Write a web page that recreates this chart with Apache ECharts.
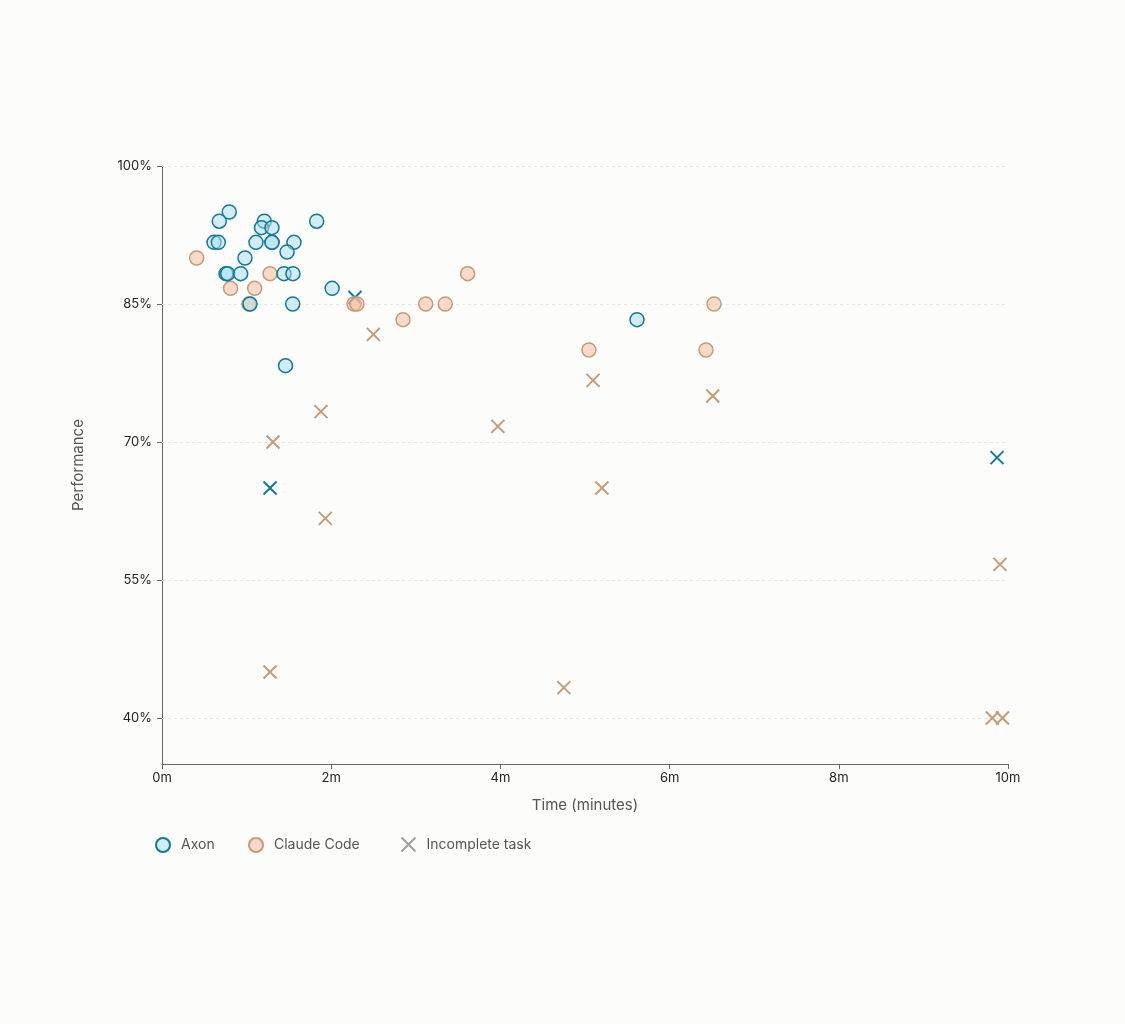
<!DOCTYPE html>
<html>
<head>
<meta charset="utf-8">
<script src="https://cdn.jsdelivr.net/npm/echarts@6/dist/echarts.min.js"></script>
<style>
html,body{margin:0;padding:0;background:#fcfcfb;}
#chart{width:1125px;height:1024px;}
</style>
</head>
<body>
<div id="chart"></div>
<script>
// Time in minutes, performance in %
const axonDone = [
  [0.795, 95.0], [0.677, 94.0], [1.209, 94.0], [1.176, 93.3], [1.300, 93.3], [1.828, 94.0],
  [0.615, 91.7], [0.666, 91.7], [1.111, 91.7], [1.300, 91.7], [1.300, 91.7], [1.560, 91.7],
  [1.478, 90.65], [0.981, 90.0], [0.757, 88.3], [0.776, 88.3], [0.930, 88.3], [1.442, 88.3],
  [1.548, 88.3], [2.011, 86.7], [1.040, 85.0], [1.545, 85.0], [1.460, 78.3], [5.615, 83.3]
];
const claudeDone = [
  [0.410, 90.0], [0.810, 86.7], [1.095, 86.7], [1.277, 88.3], [1.028, 85.0], [2.270, 85.0],
  [2.305, 85.0], [3.117, 85.0], [3.348, 85.0], [2.849, 83.3], [3.613, 88.3], [5.047, 80.0],
  [6.430, 80.0], [6.525, 85.0]
];
const axonIncomplete = [
  [2.281, 85.7], [1.277, 65.0], [9.870, 68.3]
];
const claudeIncomplete = [
  [2.498, 81.7], [1.879, 73.3], [1.312, 70.0], [1.930, 61.7], [1.277, 45.0], [3.970, 71.7],
  [5.095, 76.7], [5.200, 65.0], [4.750, 43.3], [6.510, 75.0], [9.905, 56.7], [9.815, 40.0],
  [9.935, 40.0]
];
const yTicks = [40, 55, 70, 85, 100];
const xTicks = [0, 2, 4, 6, 8, 10];

const teal = '#117995';
const tan = '#c29c78';
const grey = '#a0a0a0';
const xPath = 'path://M0,0L10,10M10,0L0,10';
const font = 'Inter, "Noto Sans", sans-serif';

const chart = echarts.init(document.getElementById('chart'));
const legendBase = {
  top: 832, itemWidth: 14, itemHeight: 14, selectedMode: false,
  textStyle: {fontFamily: font, fontSize: 14, color: '#555', padding: [0, 0, 0, 6]}
};
chart.setOption({
  backgroundColor: '#fcfcfb',
  animation: false,
  textStyle: {fontFamily: font},
  grid: {left: 162, right: 117, top: 166, bottom: 260},
  legend: [
    Object.assign({}, legendBase, {left: 150, data: ['Axon']}),
    Object.assign({}, legendBase, {left: 243, data: ['Claude Code']}),
    Object.assign({}, legendBase, {left: 394, top: 830, data: ['Incomplete task']})
  ],
  xAxis: {
    type: 'value', min: 0, max: 10, interval: 2,
    name: 'Time (minutes)', nameLocation: 'middle', nameGap: 34,
    nameTextStyle: {fontFamily: font, fontSize: 15, color: '#555'},
    axisLine: {show: true, lineStyle: {color: '#666', width: 1}},
    axisTick: {show: true, length: 5, lineStyle: {color: '#666'}},
    axisLabel: {fontFamily: font, fontSize: 13, color: '#222', margin: 8,
      formatter: v => v + 'm'},
    splitLine: {show: false}
  },
  yAxis: {
    type: 'value', min: 35, max: 100,
    name: 'Performance', nameLocation: 'middle', nameGap: 76,
    nameTextStyle: {fontFamily: font, fontSize: 15, color: '#555'},
    axisLine: {show: true, lineStyle: {color: '#666', width: 1}},
    axisTick: {show: true, length: 5, customValues: yTicks, lineStyle: {color: '#666'}},
    axisLabel: {fontFamily: font, fontSize: 13, color: '#222', margin: 10,
      customValues: yTicks, formatter: v => v + '%'},
    splitLine: {show: false}
  },
  series: [
    {
      name: 'Claude Code', type: 'scatter', symbol: 'circle', symbolSize: 14, z: 2,
      data: claudeDone,
      itemStyle: {color: 'rgba(245,190,160,0.55)', borderColor: tan, borderWidth: 1.5, opacity: 1},
      markLine: {
        silent: true, symbol: 'none', label: {show: false},
        lineStyle: {color: '#e6e6e6', type: [3, 3], width: 1},
        data: yTicks.map(v => ({yAxis: v})),
        z: 1
      }
    },
    {
      name: 'Axon', type: 'scatter', symbol: 'circle', symbolSize: 14, z: 3,
      data: axonDone,
      itemStyle: {color: 'rgba(170,220,236,0.5)', borderColor: teal, borderWidth: 1.5, opacity: 1}
    },
    {
      name: 'Claude incomplete', type: 'scatter', symbol: xPath, symbolSize: 13, z: 4,
      data: claudeIncomplete,
      itemStyle: {color: 'none', borderColor: tan, borderWidth: 2, opacity: 1}
    },
    {
      name: 'Axon incomplete', type: 'scatter', symbol: xPath, symbolSize: 13, z: 1,
      data: axonIncomplete,
      itemStyle: {color: 'none', borderColor: teal, borderWidth: 2, opacity: 1}
    },
    {
      name: 'Incomplete task', type: 'scatter', symbol: xPath, symbolSize: 13,
      data: [],
      itemStyle: {color: 'none', borderColor: grey, borderWidth: 2, opacity: 1}
    }
  ]
});
</script>
</body>
</html>
